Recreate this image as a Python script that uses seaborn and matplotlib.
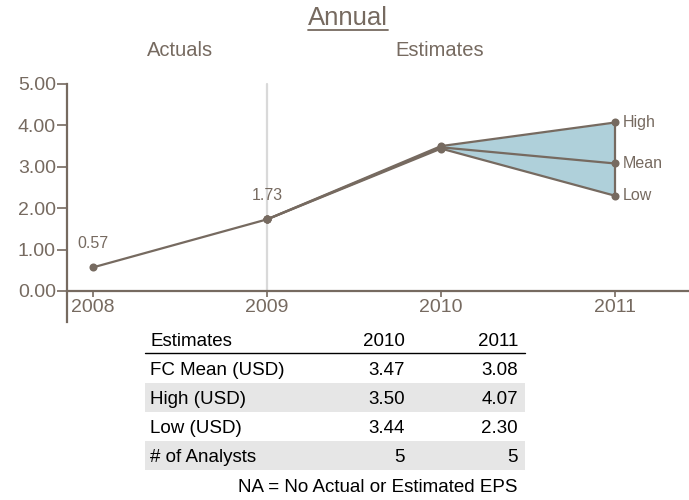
import matplotlib
matplotlib.use("Agg")
import matplotlib.pyplot as plt
import seaborn as sns
import pandas as pd
from matplotlib.patches import Rectangle
from matplotlib.lines import Line2D

# ---- data ----
actual_years = [2008, 2009]
actual_eps = [0.57, 1.73]
est_years = [2009, 2010, 2011]
high_eps = [1.73, 3.50, 4.07]
mean_eps = [1.73, 3.47, 3.08]
low_eps = [1.73, 3.44, 2.30]
year_ticks = [2008, 2009, 2010, 2011]
y_ticks = [0, 1, 2, 3, 4, 5]

table_header = ["Estimates", "2010", "2011"]
table_rows = ["FC Mean (USD)", "High (USD)", "Low (USD)", "# of Analysts"]
table_2010 = ["3.47", "3.50", "3.44", "5"]
table_2011 = ["3.08", "4.07", "2.30", "5"]

LINE = "#766a60"
TXT = "#766a60"
FILL = "#afd0da"

sns.set_style("white")
plt.rcParams['font.family'] = ['Liberation Sans', 'DejaVu Sans']

fig = plt.figure(figsize=(6.89, 5.0), dpi=100)
W, H = 689, 500
ax = fig.add_axes([67 / W, 1 - 322 / H, (W - 67) / W, (322 - 84) / H])
ax.set_xlim(2007.85, 2011.425)
ax.set_ylim(-0.75, 5.0)

# vertical divider at 2009
ax.plot([2009, 2009], [0, 5], color="#d9d9d9", lw=1.6, zorder=1, clip_on=False)

# fill between high and low for forecast
ax.fill_between(est_years[1:], low_eps[1:], high_eps[1:], color=FILL, zorder=2, lw=0)

df = pd.concat([
    pd.DataFrame({"year": actual_years, "eps": actual_eps, "s": "Actual"}),
    pd.DataFrame({"year": est_years, "eps": high_eps, "s": "High"}),
    pd.DataFrame({"year": est_years, "eps": mean_eps, "s": "Mean"}),
    pd.DataFrame({"year": est_years, "eps": low_eps, "s": "Low"}),
])
sns.lineplot(data=df, x="year", y="eps", units="s", estimator=None,
             color=LINE, lw=1.6, marker="o", markersize=5.8,
             markeredgewidth=0, ax=ax, zorder=3, legend=False)

# vertical range bar at 2011
ax.plot([est_years[-1]] * 2, [low_eps[-1], high_eps[-1]], color=LINE, lw=1.6, zorder=3)

# data labels
for x, y in zip(actual_years, actual_eps):
    ax.annotate(f"{y:.2f}", (x, y), xytext=(0, 17), textcoords="offset points",
                ha="center", va="center", fontsize=11.5, color=TXT)
for lab, vals in (("High", high_eps), ("Mean", mean_eps), ("Low", low_eps)):
    ax.annotate(lab, (est_years[-1], vals[-1]), xytext=(5.5, 0), textcoords="offset points",
                ha="left", va="center", fontsize=11.5, color=TXT)

# axes styling
for s in ("top", "right"):
    ax.spines[s].set_visible(False)
ax.spines["bottom"].set_position(("data", 0))
ax.spines["left"].set_bounds(-0.75, 5.0)
for s in ("left", "bottom"):
    ax.spines[s].set_color(LINE)
    ax.spines[s].set_linewidth(1.6)
ax.set_xticks(year_ticks)
ax.set_xticklabels([str(y) for y in year_ticks])
ax.set_yticks(y_ticks)
ax.set_yticklabels([f"{v:.2f}" for v in y_ticks])
ax.tick_params(axis="both", colors=LINE, labelcolor=TXT, labelsize=14,
               width=1.2, direction="out", left=True, bottom=True)
ax.tick_params(axis="x", pad=2, length=4)
ax.tick_params(axis="y", pad=1, length=7)
ax.set_xlabel("")
ax.set_ylabel("")
ax.grid(False)

# titles
def fy(y):
    return 1 - y / H

def fx(x):
    return x / W

t = fig.text(fx(348), fy(18), "Annual", ha="center", va="center", fontsize=18.5, color=TXT)
fig.text(fx(180), fy(50), "Actuals", ha="center", va="center", fontsize=14.5, color=TXT)
fig.text(fx(440), fy(50), "Estimates", ha="center", va="center", fontsize=14.5, color=TXT)
fig.canvas.draw()
bb = t.get_window_extent()
fig.add_artist(Line2D([bb.x0 / W, bb.x1 / W], [fy(30), fy(30)], color=TXT, lw=1.3))

# table
TL, TR = 145, 525
C1, C2 = 405, 518
fs = 13.5
fig.text(fx(150), fy(342), table_header[0], ha="left", va="center", fontsize=fs, color="black")
fig.text(fx(C1), fy(342), table_header[1], ha="right", va="center", fontsize=fs, color="black")
fig.text(fx(C2), fy(342), table_header[2], ha="right", va="center", fontsize=fs, color="black")
fig.add_artist(Line2D([fx(TL), fx(TR)], [fy(353), fy(353)], color="black", lw=1.0))
row_top = 354
row_h = 29
for i, (lab, a, b) in enumerate(zip(table_rows, table_2010, table_2011)):
    top = row_top + i * row_h
    if i % 2 == 1:
        fig.add_artist(Rectangle((fx(TL), fy(top + row_h)), fx(TR) - fx(TL), row_h / H,
                                 transform=fig.transFigure, color="#e6e6e6", lw=0, zorder=0))
    yc = top + row_h / 2 + 2
    fig.text(fx(150), fy(yc), lab, ha="left", va="center", fontsize=fs, color="black")
    fig.text(fx(C1), fy(yc), a, ha="right", va="center", fontsize=fs, color="black")
    fig.text(fx(C2), fy(yc), b, ha="right", va="center", fontsize=fs, color="black")
fig.text(fx(C2), fy(487), "NA = No Actual or Estimated EPS", ha="right", va="center",
         fontsize=fs, color="black")

fig.savefig("out.png", dpi=100)
